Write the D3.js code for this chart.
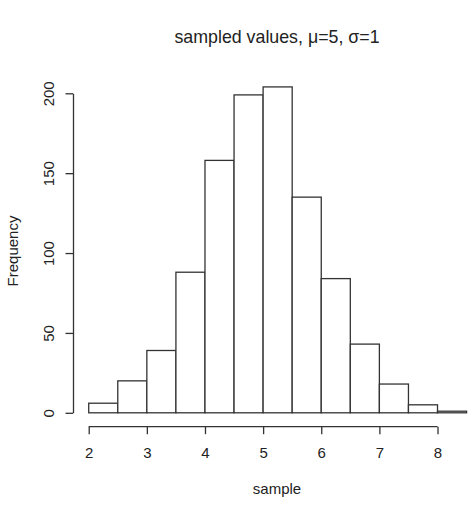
<!DOCTYPE html>
<html>
<head>
<meta charset="utf-8">
<script src="https://cdn.jsdelivr.net/npm/d3@7"></script>
<style>
  body { margin: 0; background: white; }
  text { font-family: "Liberation Sans", Arial, sans-serif; fill: #222; }
</style>
</head>
<body>
<div id="viz"></div>
<script>
var width = 474,
    height = 505;

// histogram bins (left edges), width 0.5
var binStarts = [2, 2.5, 3, 3.5, 4, 4.5, 5, 5.5, 6, 6.5, 7, 7.5, 8];
var counts    = [6, 20, 39, 88, 158, 199, 204, 135, 84, 43, 18, 5, 1];
var binWidth  = 0.5;
var xTicks = [2, 3, 4, 5, 6, 7, 8];
var yTicks = [0, 50, 100, 150, 200];

var titleText = "sampled values, \u03bc=5, \u03c3=1";

var svg = d3.select("#viz").append("svg")
    .attr("width", width)
    .attr("height", height);

// R style 4% padding on the data range
var x = d3.scaleLinear().domain([1.74, 8.76]).range([73.6, 481.7]);
var y = d3.scaleLinear().domain([0, 200]).range([412.8, 93.3]);

svg.selectAll("rect.bar")
    .data(counts)
    .enter()
    .append("rect")
    .attr("class", "bar")
    .attr("x", function(d, i) { return x(binStarts[i]); })
    .attr("width", function(d, i) { return x(binStarts[i] + binWidth) - x(binStarts[i]); })
    .attr("y", function(d) { return y(d); })
    .attr("height", function(d) { return y(0) - y(d); })
    .style("fill", "white")
    .style("stroke", "#333")
    .style("stroke-width", 1.3);

// x axis, offset below plot; axis line only spans the ticks like R
var xAxis = svg.append("g")
    .attr("transform", "translate(0,426.7)")
    .call(d3.axisBottom(x).tickValues(xTicks).tickSize(7.5).tickSizeOuter(0)
          .tickPadding(13).tickFormat(d3.format("d")));
xAxis.select(".domain")
    .attr("d", "M" + x(xTicks[0]) + ",0H" + x(xTicks[xTicks.length - 1]));

// y axis, offset left
var yAxis = svg.append("g")
    .attr("transform", "translate(73,0)")
    .call(d3.axisLeft(y).tickValues(yTicks).tickSize(7.5).tickSizeOuter(0).tickFormat(d3.format("d")));

[xAxis, yAxis].forEach(function(a) {
    a.select(".domain").attr("stroke", "#333").attr("stroke-width", 1.3);
    a.selectAll(".tick line").attr("stroke", "#333").attr("stroke-width", 1.3);
    a.selectAll(".tick text").style("font-size", "15px").attr("fill", "#222");
});

yAxis.selectAll(".tick text")
    .attr("x", null)
    .attr("dy", null)
    .attr("text-anchor", "middle")
    .attr("transform", "translate(-19.5,0) rotate(-90)");

svg.append("text")
    .attr("x", 277)
    .attr("y", 43)
    .attr("text-anchor", "middle")
    .style("font-size", "17.8px")
    .text(titleText);

svg.append("text")
    .attr("x", 277)
    .attr("y", 494)
    .attr("text-anchor", "middle")
    .style("font-size", "15px")
    .text("sample");

svg.append("text")
    .attr("transform", "translate(18,251) rotate(-90)")
    .attr("text-anchor", "middle")
    .style("font-size", "15px")
    .text("Frequency");
</script>
</body>
</html>
